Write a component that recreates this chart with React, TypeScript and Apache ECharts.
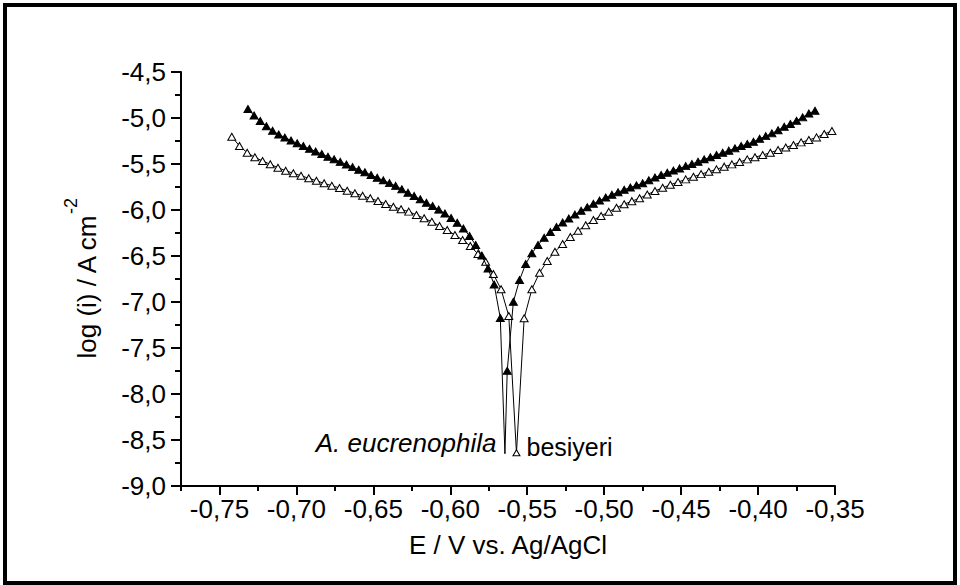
import React, { useEffect, useRef } from "react";
import * as echarts from "echarts";

// A. eucrenophila (filled triangles)
const E_EUC = [
  -0.7315, -0.7275, -0.7235, -0.7195, -0.7155, -0.7115, -0.7075, -0.7035, -0.6995, -0.6955,
  -0.6915, -0.6875, -0.6835, -0.6795, -0.6755, -0.6715, -0.6675, -0.6635, -0.6595, -0.6555,
  -0.6515, -0.6475, -0.6435, -0.6395, -0.6355, -0.6315, -0.6275, -0.6235, -0.6195, -0.6155,
  -0.6115, -0.6075, -0.6035, -0.5995, -0.5955, -0.5915, -0.5875, -0.5835, -0.5795, -0.5755,
  -0.5715, -0.5675,
  -0.5645,
  -0.563, -0.559, -0.555, -0.551, -0.547, -0.543, -0.539, -0.535, -0.531, -0.527,
  -0.523, -0.519, -0.515, -0.511, -0.507, -0.503, -0.499, -0.495, -0.491, -0.487,
  -0.483, -0.479, -0.475, -0.471, -0.467, -0.463, -0.459, -0.455, -0.451, -0.447,
  -0.443, -0.439, -0.435, -0.431, -0.427, -0.423, -0.419, -0.415, -0.411, -0.407,
  -0.403, -0.399, -0.395, -0.391, -0.387, -0.383, -0.379, -0.375, -0.371, -0.367,
  -0.363,
];
const LOGI_EUC = [
  -4.902, -4.973, -5.033, -5.090, -5.139, -5.179, -5.213, -5.245, -5.275, -5.305,
  -5.335, -5.364, -5.392, -5.421, -5.449, -5.477, -5.505, -5.534, -5.562, -5.590,
  -5.620, -5.649, -5.678, -5.708, -5.738, -5.775, -5.813, -5.848, -5.883, -5.922,
  -5.957, -5.996, -6.038, -6.087, -6.139, -6.201, -6.283, -6.380, -6.495, -6.636,
  -6.810, -7.174,
  -8.645,
  -7.747, -6.997, -6.761, -6.587, -6.471, -6.380, -6.302, -6.239, -6.185, -6.136,
  -6.092, -6.050, -6.009, -5.970, -5.933, -5.898, -5.865, -5.835, -5.807, -5.780,
  -5.755, -5.732, -5.709, -5.676, -5.647, -5.620, -5.595, -5.572, -5.548, -5.523,
  -5.500, -5.475, -5.450, -5.427, -5.403, -5.378, -5.355, -5.330, -5.305, -5.283,
  -5.258, -5.226, -5.197, -5.167, -5.133, -5.096, -5.065, -5.030, -4.993, -4.951,
  -4.921,
];

// besiyeri (open triangles)
const E_BES = [
  -0.742, -0.737, -0.732, -0.727, -0.722, -0.717, -0.712, -0.707, -0.702, -0.697,
  -0.692, -0.687, -0.682, -0.677, -0.672, -0.667, -0.662, -0.657, -0.652, -0.647,
  -0.642, -0.637, -0.632, -0.627, -0.622, -0.617, -0.612, -0.607, -0.602, -0.597,
  -0.592, -0.587, -0.582, -0.577, -0.572, -0.567, -0.562, -0.557, -0.552, -0.547,
  -0.542, -0.537, -0.532, -0.527, -0.522, -0.517, -0.512, -0.507, -0.502, -0.497,
  -0.492, -0.487, -0.482, -0.477, -0.472, -0.467, -0.462, -0.457, -0.452, -0.447,
  -0.442, -0.437, -0.432, -0.427, -0.422, -0.417, -0.412, -0.407, -0.402, -0.397,
  -0.392, -0.387, -0.382, -0.377, -0.372, -0.367, -0.362, -0.357, -0.352,
];
const LOGI_BES = [
  -5.203, -5.304, -5.377, -5.427, -5.467, -5.503, -5.540, -5.573, -5.601, -5.627,
  -5.655, -5.682, -5.710, -5.736, -5.761, -5.790, -5.818, -5.845, -5.873, -5.902,
  -5.935, -5.964, -5.992, -6.018, -6.054, -6.090, -6.127, -6.174, -6.217, -6.272,
  -6.326, -6.391, -6.478, -6.562, -6.696, -6.862, -7.152,
  -8.638,
  -7.177, -6.862, -6.682, -6.554, -6.453, -6.370, -6.293, -6.226, -6.165, -6.109,
  -6.065, -6.020, -5.975, -5.937, -5.904, -5.872, -5.832, -5.793, -5.759, -5.726,
  -5.696, -5.667, -5.639, -5.610, -5.584, -5.558, -5.529, -5.504, -5.478, -5.450,
  -5.427, -5.402, -5.377, -5.348, -5.320, -5.293, -5.265, -5.239, -5.211, -5.174,
  -5.141,
];

const X_MAJOR_TICKS = [-0.75, -0.7, -0.65, -0.6, -0.55, -0.5, -0.45, -0.4, -0.35];
const X_MINOR_TICKS = [-0.775, -0.725, -0.675, -0.625, -0.575, -0.525, -0.475, -0.425, -0.375];

const LABEL_EUC = "A. eucrenophila";
const LABEL_BES = "besiyeri";
const X_TITLE = "E / V vs. Ag/AgCl";

const FONT = "'Liberation Sans', Arial, Helvetica, sans-serif";

function buildData(xs: number[], ys: number[], labelText: string, side: "left" | "right", hideMinSymbol: boolean) {
  const minVal = Math.min(...ys);
  return xs.map((x, i) => {
    if (ys[i] === minVal) {
      return {
        value: [x, ys[i]],
        symbolSize: hideMinSymbol ? 0.01 : [7, 6],
        label: {
          show: true,
          position: side,
          distance: side === "left" ? 8 : 6,
          offset: side === "left" ? [0, -10] : [0, -6],
          formatter: labelText,
          fontStyle: side === "left" ? "italic" : "normal",
          fontSize: side === "left" ? 26 : 25,
          fontFamily: FONT,
          color: "#000",
        },
      };
    }
    return { value: [x, ys[i]] };
  });
}

export default function App() {
  const ref = useRef<HTMLDivElement>(null);
  useEffect(() => {
    if (!ref.current) return;
    const chart = echarts.init(ref.current, undefined, { renderer: "svg" });
    const axisLine = { show: true, lineStyle: { color: "#000", width: 2 } };
    chart.setOption({
      animation: false,
      backgroundColor: "#fff",
      grid: { left: 181, right: 125, top: 72, bottom: 99, containLabel: false, outerBoundsMode: "none" },
      xAxis: [
        {
          type: "value",
          min: -0.775,
          max: -0.35,
          position: "bottom",
          axisLine,
          axisTick: { show: true, length: 9, lineStyle: { color: "#000", width: 2 }, customValues: X_MAJOR_TICKS },
          axisLabel: {
            show: true,
            customValues: X_MAJOR_TICKS,
            margin: 10,
            fontSize: 26,
            fontFamily: FONT,
            color: "#000",
            formatter: (v: number) => v.toFixed(2).replace(".", ","),
          },
          splitLine: { show: false },
          name: X_TITLE,
          nameLocation: "middle",
          nameGap: 46,
          nameTextStyle: { fontSize: 26, fontFamily: FONT, color: "#000" },
        },
        {
          type: "value",
          min: -0.775,
          max: -0.35,
          position: "bottom",
          axisLine: { show: false },
          axisTick: { show: true, length: 5, lineStyle: { color: "#000", width: 2 }, customValues: X_MINOR_TICKS },
          axisLabel: { show: false },
          splitLine: { show: false },
        },
      ],
      yAxis: {
        type: "value",
        min: -9,
        max: -4.5,
        interval: 0.5,
        axisLine,
        axisTick: { show: true, length: 10, lineStyle: { color: "#000", width: 2 } },
        minorTick: { show: true, splitNumber: 2, length: 6, lineStyle: { color: "#000", width: 2 } },
        axisLabel: {
          margin: 15,
          fontSize: 26,
          fontFamily: FONT,
          color: "#000",
          formatter: (v: number) => v.toFixed(1).replace(".", ","),
        },
        splitLine: { show: false },
        name: "{a|log (i) / A cm}{b|-2}",
        nameLocation: "middle",
        nameGap: 81,
        nameTextStyle: {
          color: "#000",
          rich: {
            a: { fontSize: 26, fontFamily: FONT, color: "#000", lineHeight: 38, verticalAlign: "bottom" },
            b: { fontSize: 18, fontFamily: FONT, color: "#000", lineHeight: 25, verticalAlign: "top" },
          },
        },
      },
      series: [
        {
          type: "line",
          name: LABEL_BES,
          xAxisIndex: 0,
          data: buildData(E_BES, LOGI_BES, LABEL_BES, "right", false),
          symbol: "triangle",
          symbolSize: [8, 7],
          showAllSymbol: true,
          lineStyle: { color: "#000", width: 1 },
          itemStyle: { color: "#fff", borderColor: "#000", borderWidth: 1 },
          z: 3,
        },
        {
          type: "line",
          name: LABEL_EUC,
          xAxisIndex: 0,
          data: buildData(E_EUC, LOGI_EUC, LABEL_EUC, "left", true),
          symbol: "triangle",
          symbolSize: [8, 7],
          showAllSymbol: true,
          lineStyle: { color: "#000", width: 1 },
          itemStyle: { color: "#000", borderColor: "#000", borderWidth: 1 },
          z: 4,
        },
      ],
      graphic: [
        {
          type: "rect",
          shape: { x: 5, y: 5, width: 950, height: 578 },
          style: { fill: "none", stroke: "#000", lineWidth: 4 },
          silent: true,
          z: 100,
        },
      ],
    });
    return () => chart.dispose();
  }, []);
  return (
    <div
      ref={ref}
      style={{ position: "fixed", left: 0, top: 0, width: 960, height: 585, background: "#fff" }}
    />
  );
}
